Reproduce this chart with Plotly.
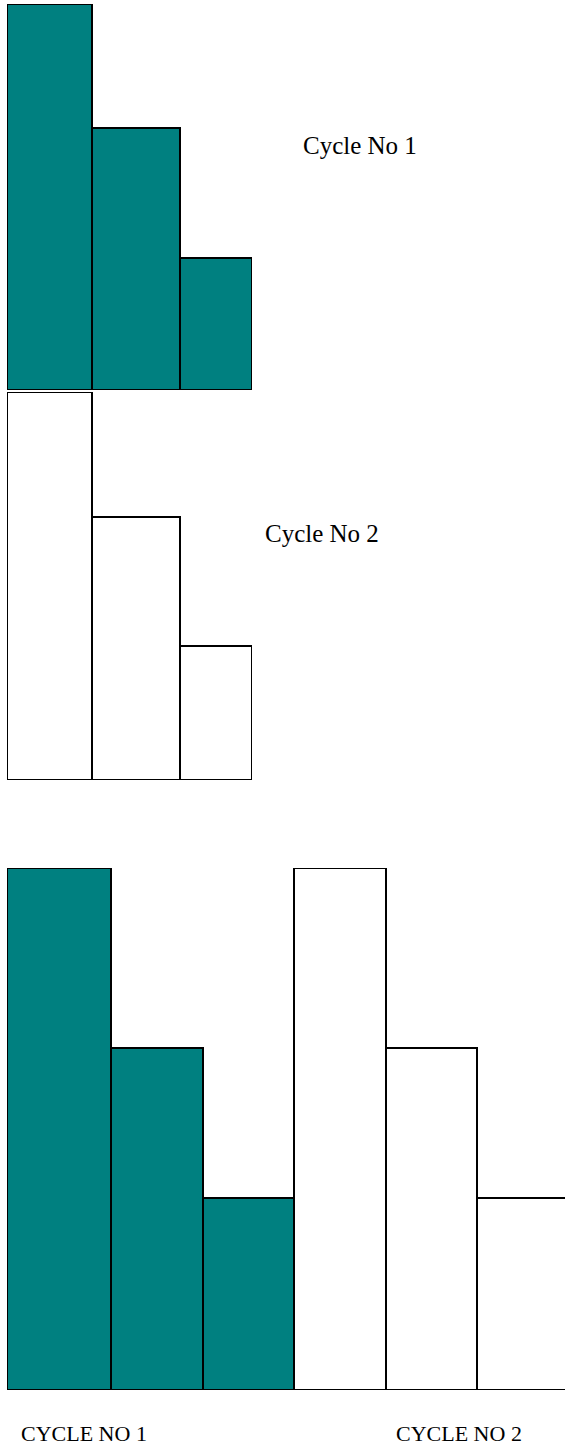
import plotly.graph_objects as go
import numpy as np

# ---- data ----
stages = ["A", "B", "C"]
cycle1_top = [100, 67.9, 34.2]
cycle2_top = [100, 67.8, 34.5]
bottom_categories = ["C1-A", "C1-B", "C1-C", "C2-A", "C2-B", "C2-C"]
bottom_values = [100, 65.5, 36.8, 100, 65.5, 36.8]
bottom_colors = ["#008080", "#008080", "#008080", "#ffffff", "#ffffff", "#ffffff"]
label_top1 = "Cycle No 1"
label_top2 = "Cycle No 2"
label_bottom1 = "CYCLE NO 1"
label_bottom2 = "CYCLE NO 2"

# ---- layout geometry (pixels) ----
W, H = 565, 1449
top_widths = [85, 88, 72]
bottom_widths = [104, 92, 91, 92, 91, 92]

def centers(widths):
    e = np.concatenate([[0], np.cumsum(widths)])
    return list((e[:-1] + e[1:]) / 2)

def ydom(top_px, bot_px):
    return [1 - bot_px / H, 1 - top_px / H]

line = dict(color="black", width=2)

fig = go.Figure()
fig.add_trace(go.Bar(x=centers(top_widths), y=cycle1_top, width=top_widths,
                     marker=dict(color="#008080", line=line),
                     xaxis="x", yaxis="y", cliponaxis=False, hoverinfo="skip"))
fig.add_trace(go.Bar(x=centers(top_widths), y=cycle2_top, width=top_widths,
                     marker=dict(color="#ffffff", line=line),
                     xaxis="x2", yaxis="y2", cliponaxis=False, hoverinfo="skip"))
fig.add_trace(go.Bar(x=centers(bottom_widths), y=bottom_values, width=bottom_widths,
                     marker=dict(color=bottom_colors, line=line),
                     xaxis="x3", yaxis="y3", cliponaxis=False, hoverinfo="skip"))

ax = dict(visible=False, showgrid=False, zeroline=False, fixedrange=True)
fig.update_layout(
    width=W, height=H,
    margin=dict(l=0, r=0, t=0, b=0),
    paper_bgcolor="white", plot_bgcolor="rgba(0,0,0,0)",
    showlegend=False, bargap=0,
    xaxis=dict(ax, domain=[7 / W, 252 / W], range=[0, sum(top_widths)], anchor="y"),
    yaxis=dict(ax, domain=ydom(4, 390), range=[0, 100], anchor="x"),
    xaxis2=dict(ax, domain=[7 / W, 252 / W], range=[0, sum(top_widths)], anchor="y2"),
    yaxis2=dict(ax, domain=ydom(392, 780), range=[0, 100], anchor="x2"),
    xaxis3=dict(ax, domain=[7 / W, 1.0], range=[0, 558], anchor="y3"),
    yaxis3=dict(ax, domain=ydom(868, 1390), range=[0, 100], anchor="x3"),
)

font_big = dict(family="Liberation Serif, Times New Roman, serif", size=25, color="black")
font_caps = dict(family="Liberation Serif, Times New Roman, serif", size=22, color="black")
for txt, xp, yp, f in [
    (label_top1, 301, 145, font_big),
    (label_top2, 263, 534, font_big),
    (label_bottom1, 19, 1433, font_caps),
    (label_bottom2, 394, 1433, font_caps),
]:
    fig.add_annotation(text=txt, x=xp / W, y=1 - yp / H, xref="paper", yref="paper",
                       xanchor="left", yanchor="middle", showarrow=False, font=f)

fig.write_html("out.html", config={"displayModeBar": False},
               post_script="document.body.style.margin='0';document.body.style.padding='0';")
